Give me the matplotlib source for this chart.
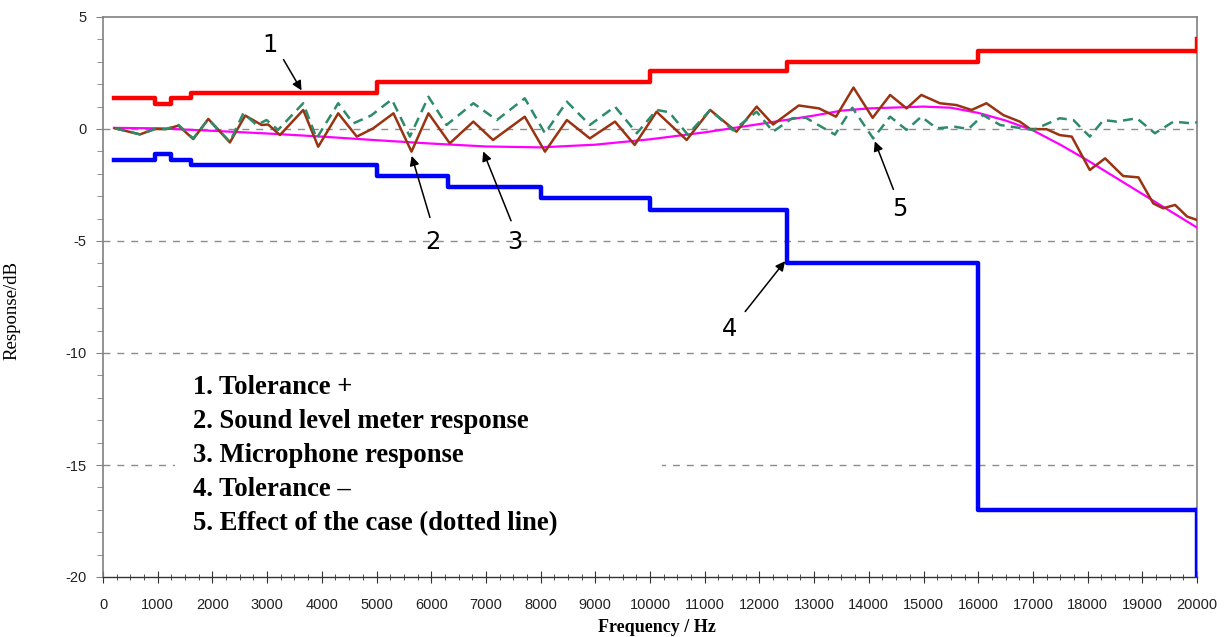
import matplotlib
matplotlib.use("Agg")
import matplotlib.pyplot as plt
from matplotlib.patches import Rectangle
from matplotlib.ticker import MultipleLocator, FuncFormatter

plt.rcParams['axes.unicode_minus'] = False

# ---------------- data ----------------
tol_plus_edges = [200, 950, 1250, 1600, 5000, 10000, 12500, 16000, 20000]
tol_plus_vals = [1.4, 1.1, 1.4, 1.6, 2.1, 2.6, 3.0, 3.5]
tol_plus_end = 4.0

tol_minus_edges = [200, 950, 1250, 1600, 5000, 6300, 8000, 10000, 12500, 16000, 20000]
tol_minus_vals = [-1.4, -1.1, -1.4, -1.6, -2.1, -2.6, -3.1, -3.6, -6.0, -17.0]
tol_minus_end = -20.0

mic_freq = [200, 1000, 2000, 3000, 4000, 5000, 6000, 7000, 8000, 9000, 10000,
            11000, 12000, 13000, 13500, 14000, 15000, 15500, 16000, 16500,
            17000, 17500, 18000, 18500, 19000, 19500, 20000]
mic_resp = [0.05, 0.03, -0.08, -0.2, -0.34, -0.5, -0.65, -0.78, -0.82, -0.7, -0.46,
            -0.15, 0.22, 0.6, 0.82, 0.92, 1.0, 0.95, 0.72, 0.38,
            -0.06, -0.7, -1.4, -2.15, -2.9, -3.65, -4.4]

case_freq = [220, 676, 950, 1160, 1380, 1650, 1925, 2320, 2565, 2810, 2990, 3200,
             3660, 3905, 4300, 4575, 4900, 5280, 5610, 5950, 6280, 6770, 7200,
             7710, 8080, 8480, 8900, 9360, 9760, 10120, 10350, 10690, 11100, 11520,
             11950, 12250, 12600, 12850, 13380, 13700, 14080, 14390, 14690, 14960,
             15240, 15570, 15820, 16090, 16400, 16880, 17010, 17490, 17740, 18040,
             18290, 18530, 18900, 19230, 19570, 19910, 20000]
case_resp = [0.03, -0.24, 0.0, 0.0, 0.18, -0.42, 0.43, -0.57, 0.70, 0.18, 0.40, -0.04,
             1.15, -0.42, 1.15, 0.25, 0.6, 1.32, -0.34, 1.44, 0.18, 1.15, 0.40,
             1.37, -0.19, 1.22, 0.18, 1.0, -0.19, 0.85, 0.75, -0.25, 0.85, -0.06,
             0.77, -0.12, 0.48, 0.5, -0.25, 0.95, -0.42, 0.55, -0.04, 0.55,
             0.03, 0.1, 0.0, 0.62, 0.18, 0.0, -0.04, 0.48, 0.4, -0.34,
             0.4, 0.33, 0.48, -0.19, 0.33, 0.25, 0.3]

slm_freq = [220, 676, 950, 1160, 1380, 1650, 1925, 2320, 2600, 2900, 3020, 3235,
            3660, 3935, 4300, 4640, 4940, 5310, 5640, 5950, 6340, 6770, 7130,
            7710, 8080, 8480, 8900, 9360, 9720, 10120, 10670, 11100, 11580,
            11950, 12250, 12720, 13090, 13400, 13720, 14070, 14390, 14690, 14960,
            15300, 15600, 15880, 16150, 16460, 16760, 16950, 17250, 17490, 17710,
            18040, 18320, 18650, 18930, 19200, 19380, 19600, 19820, 20000]
slm_resp = [0.03, -0.24, 0.0, 0.0, 0.15, -0.45, 0.45, -0.6, 0.6, 0.18, 0.2, -0.27,
            0.85, -0.79, 0.7, -0.34, 0.03, 0.7, -1.01, 0.7, -0.64, 0.33, -0.49,
            0.55, -1.01, 0.4, -0.42, 0.33, -0.71, 0.77, -0.49, 0.85, -0.12,
            1.0, 0.2, 1.05, 0.92, 0.55, 1.85, 0.5, 1.52, 0.92, 1.52,
            1.15, 1.07, 0.85, 1.15, 0.62, 0.33, 0.0, -0.01, -0.27, -0.34,
            -1.83, -1.31, -2.1, -2.16, -3.32, -3.54, -3.39, -3.91, -4.06]

x_ticks = list(range(0, 20001, 1000))
y_ticks = [5, 0, -5, -10, -15, -20]
grid_levels = [0, -5, -10, -15]

legend_lines = ["1. Tolerance +",
                "2. Sound level meter response",
                "3. Microphone response",
                "4. Tolerance \u2013",
                "5. Effect of the case (dotted line)"]

# annotations: label, text position, arrow tip, arrow tail
ann_labels = ["1", "2", "3", "4", "5"]
ann_text_xy = [(3050, 3.75), (6030, -5.05), (7530, -5.05), (11450, -8.95), (14570, -3.55)]
ann_tip_xy = [(3630, 1.72), (5643, -1.2), (6950, -1.0), (12470, -5.9), (14110, -0.55)]
ann_tail_xy = [(3300, 3.1), (5977, -3.95), (7460, -4.1), (11740, -8.15), (14450, -2.7)]

# ---------------- figure ----------------
fig = plt.figure(figsize=(12.28, 6.37), dpi=100)
ax = fig.add_axes([103/1228, 1-577/637, 1094/1228, 560/637])

ax.set_xlim(0, 20000)
ax.set_ylim(-20, 5)

for g in grid_levels:
    ax.axhline(g, color='#8c8c8c', lw=1.0, ls=(0, (5, 5)), zorder=1)

# white box behind legend text
ax.add_patch(Rectangle((0.066, 0.05), 0.445, 0.33, transform=ax.transAxes,
                       facecolor='white', edgecolor='none', zorder=2))

ax.plot(mic_freq, mic_resp, color='#ff00ff', lw=1.6, zorder=4)
ax.plot(slm_freq, slm_resp, color='#993311', lw=1.8, zorder=5,
        solid_joinstyle='round')
ax.plot(case_freq, case_resp, color='#2e8b6a', lw=1.8, ls=(0, (4, 2.5)), zorder=6,
        dash_joinstyle='round')

px = tol_plus_edges + [tol_plus_edges[-1]]
py = tol_plus_vals + [tol_plus_vals[-1], tol_plus_end]
ax.step(px[:-1], py[:-1], where='post', color='#ff0000', lw=3.2, zorder=7)
ax.plot([px[-2], px[-1]], [py[-2], py[-1]], color='#ff0000', lw=3.2, zorder=7)

mx = tol_minus_edges + [tol_minus_edges[-1]]
my = tol_minus_vals + [tol_minus_vals[-1], tol_minus_end]
ax.step(mx[:-1], my[:-1], where='post', color='#0000ff', lw=3.2, zorder=7)
ax.plot([mx[-2], mx[-1]], [my[-2], my[-1]], color='#0000ff', lw=3.2, zorder=7)

for lab, txy, tip, tail in zip(ann_labels, ann_text_xy, ann_tip_xy, ann_tail_xy):
    ax.text(txy[0], txy[1], lab, fontsize=17.5, ha='center', va='center',
            family='DejaVu Sans', zorder=9)
    ax.annotate('', xy=tip, xytext=tail,
                arrowprops=dict(arrowstyle='-|>', color='black', lw=1.1,
                                mutation_scale=14, shrinkA=0, shrinkB=0),
                zorder=9)

ax.text(0.082, 0.36, "\n".join(legend_lines), transform=ax.transAxes,
        family='Liberation Serif', fontweight='bold', fontsize=19.2,
        va='top', ha='left', linespacing=1.47, zorder=10)

# axes styling
for side in ['top', 'right', 'left']:
    ax.spines[side].set_color('#808080')
    ax.spines[side].set_linewidth(1.2)
ax.spines['bottom'].set_color('#333333')
ax.spines['bottom'].set_linewidth(1.0)

ax.set_xticks(x_ticks)
ax.xaxis.set_minor_locator(MultipleLocator(250))
ax.set_yticks(y_ticks)
ax.yaxis.set_minor_locator(MultipleLocator(1))
ax.yaxis.set_major_formatter(FuncFormatter(lambda v, p: f"{int(v)}"))
ax.tick_params(axis='x', which='major', direction='inout', length=8, width=0.8,
               color='#333333', labelsize=10.5, pad=11, labelcolor='#222222')
ax.tick_params(axis='x', which='minor', direction='inout', length=4, width=0.6,
               color='#333333')
ax.tick_params(axis='y', which='major', direction='out', length=5, width=0.8,
               color='#808080', labelsize=10.5, pad=7, labelcolor='#222222')
ax.tick_params(axis='y', which='minor', direction='out', length=4, width=0.6,
               color='#808080')
for lbl in ax.get_xticklabels() + ax.get_yticklabels():
    lbl.set_family('Liberation Sans')

fig.text(657/1228, 1-628/637, "Frequency / Hz", family='Liberation Serif',
         fontweight='bold', fontsize=13, ha='center', va='center')
fig.text(12/1228, 1-310/637, "Response/dB", family='Liberation Serif',
         fontsize=13.5, rotation=90, ha='center', va='center')

fig.savefig("out.png", dpi=100, facecolor='white')
